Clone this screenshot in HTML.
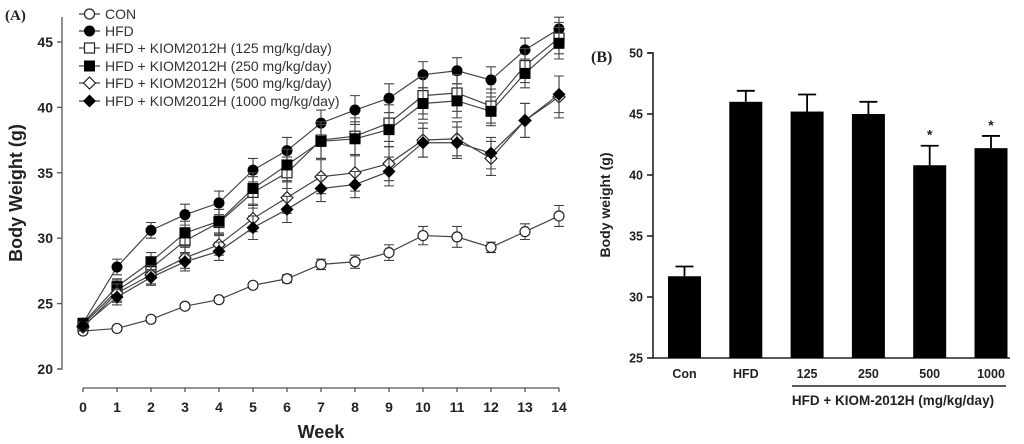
<!DOCTYPE html>
<html><head><meta charset="utf-8"><style>
body{margin:0;background:#fff;}
svg{display:block;font-family:"Liberation Sans",sans-serif;}
</style></head><body>
<svg id="chart" width="1024" height="444" viewBox="0 0 1024 444"></svg>
<script>
const weeks=[0,1,2,3,4,5,6,7,8,9,10,11,12,13,14];
const yTicksA=[20,25,30,35,40,45];
const seriesNames=["CON","HFD","HFD + KIOM2012H (125 mg/kg/day)","HFD + KIOM2012H (250 mg/kg/day)","HFD + KIOM2012H (500 mg/kg/day)","HFD + KIOM2012H (1000 mg/kg/day)"];
const conVals=[22.9,23.1,23.8,24.8,25.3,26.4,26.9,28.0,28.2,28.9,30.2,30.1,29.3,30.5,31.7];
const conErr=[0.2,0.2,0.2,0.2,0.2,0.2,0.3,0.4,0.5,0.6,0.7,0.8,0.4,0.6,0.8];
const hfdVals=[23.5,27.8,30.6,31.8,32.7,35.2,36.7,38.8,39.8,40.7,42.5,42.8,42.1,44.4,46.0];
const hfdErr=[0.3,0.6,0.6,0.8,0.9,0.9,1.0,1.0,1.1,1.1,1.0,1.0,1.0,0.9,0.9];
const k125Vals=[23.4,26.0,27.7,29.8,31.2,33.5,35.0,37.5,37.8,38.8,40.9,41.1,40.1,43.2,45.3];
const k125Err=[0.3,0.8,0.8,1.0,1.0,1.2,1.2,1.4,1.4,1.4,1.4,1.4,1.3,1.3,1.2];
const k250Vals=[23.5,26.3,28.2,30.4,31.3,33.8,35.6,37.4,37.6,38.3,40.3,40.5,39.7,42.6,44.9];
const k250Err=[0.3,0.6,0.7,0.9,0.9,1.2,1.2,1.3,1.3,1.3,1.2,1.3,1.1,1.1,1.2];
const k500Vals=[23.2,25.8,27.2,28.5,29.5,31.5,33.1,34.7,35.0,35.7,37.5,37.6,36.1,39.0,40.8];
const k500Err=[0.3,0.7,0.7,0.8,0.8,1.0,1.2,1.3,1.4,1.3,1.3,1.3,1.3,1.3,1.6];
const k1000Vals=[23.3,25.5,27.0,28.2,29.0,30.8,32.2,33.8,34.1,35.1,37.3,37.3,36.5,39.0,41.0];
const k1000Err=[0.3,0.6,0.6,0.7,0.7,0.9,1.0,1.0,1.0,1.1,1.1,1.2,1.2,1.3,1.4];
const barCats=["Con","HFD","125","250","500","1000"];
const barVals=[31.7,46.0,45.2,45.0,40.8,42.2];
const barErr=[0.8,0.9,1.4,1.0,1.6,1.0];
const barSig=[false,false,false,false,true,true];
const yTicksB=[25,30,35,40,45,50];

const NS="http://www.w3.org/2000/svg";
const svg=document.getElementById('chart');
function mk(tag,attrs,parent,text){const e=document.createElementNS(NS,tag);for(const k in attrs)e.setAttribute(k,attrs[k]);if(text!==undefined)e.textContent=text;(parent||svg).appendChild(e);return e;}

// ---------- Panel A ----------
const xA=w=>83+w*34;
const yA=v=>369-(v-20)*13.08;
const gA=mk('g',{});


let t=mk('text',{x:5,y:20,'font-family':'Liberation Serif,serif','font-weight':'bold','font-size':15,fill:'#222'},gA,'(A)');

let ax=mk('path',{d:`M62 17 V369 H57`,stroke:'#555','stroke-width':1.3,fill:'none'},gA);

yTicksA.forEach(v=>{
  mk('line',{x1:57,x2:62,y1:yA(v),y2:yA(v),stroke:'#555','stroke-width':1.3},gA);
  const l=mk('text',{x:53,y:yA(v)+5,'text-anchor':'end','font-weight':'bold','font-size':14,fill:'#222'},gA,String(v));
  
});
let xa=mk('line',{x1:xA(0),x2:xA(14),y1:388,y2:388,stroke:'#555','stroke-width':1.3},gA);

weeks.forEach(w=>{
  mk('line',{x1:xA(w),x2:xA(w),y1:388,y2:392,stroke:'#555','stroke-width':1.3},gA);
  const l=mk('text',{x:xA(w),y:412,'text-anchor':'middle','font-weight':'bold','font-size':14,fill:'#222'},gA,String(w));
  
});
t=mk('text',{x:321,y:438,'text-anchor':'middle','font-weight':'bold','font-size':18,fill:'#222'},gA,'Week');

t=mk('text',{x:0,y:0,transform:'translate(22,193) rotate(-90)','text-anchor':'middle','font-weight':'bold','font-size':18,fill:'#222'},gA,'Body Weight (g)');


function marker(type,x,y,parent){
  const s='#222';
  if(type==='oc')return mk('circle',{cx:x,cy:y,r:5,fill:'#fff',stroke:s,'stroke-width':1.2},parent);
  if(type==='fc')return mk('circle',{cx:x,cy:y,r:5.5,fill:'#000'},parent);
  if(type==='os')return mk('rect',{x:x-5,y:y-5,width:10,height:10,fill:'#fff',stroke:s,'stroke-width':1.2},parent);
  if(type==='fs')return mk('rect',{x:x-5.5,y:y-5.5,width:11,height:11,fill:'#000'},parent);
  if(type==='od')return mk('path',{d:`M${x} ${y-6}L${x+6} ${y}L${x} ${y+6}L${x-6} ${y}Z`,fill:'#fff',stroke:s,'stroke-width':1.2},parent);
  return mk('path',{d:`M${x} ${y-6.5}L${x+6.5} ${y}L${x} ${y+6.5}L${x-6.5} ${y}Z`,fill:'#000'},parent);
}
const seriesA=[[conVals,conErr,'oc','series-con'],[hfdVals,hfdErr,'fc','series-hfd'],[k125Vals,k125Err,'os','series-125'],[k250Vals,k250Err,'fs','series-250'],[k500Vals,k500Err,'od','series-500'],[k1000Vals,k1000Err,'fd','series-1000']];
seriesA.forEach(([vals,err,m,name])=>{
  const g=mk('g',{},gA);
  
  
  mk('polyline',{points:vals.map((v,i)=>xA(weeks[i])+','+yA(v)).join(' '),fill:'none',stroke:'#444','stroke-width':1.2},g);
  vals.forEach((v,i)=>{
    const x=xA(weeks[i]),y1=yA(v+err[i]),y2=yA(v-err[i]);
    mk('path',{d:`M${x} ${y1}V${y2}M${x-5} ${y1}H${x+5}M${x-5} ${y2}H${x+5}`,stroke:'#444','stroke-width':1.1,fill:'none'},g);
  });
  vals.forEach((v,i)=>{const p=marker(m,xA(weeks[i]),yA(v),g);});
});
// legend
const legY=[14,31,48,66,83,101];
const legM=['oc','fc','os','fs','od','fd'];
seriesNames.forEach((n,i)=>{
  const g=mk('g',{},gA);
  
  
  mk('line',{x1:79,x2:100,y1:legY[i],y2:legY[i],stroke:'#444','stroke-width':1.2},g);
  marker(legM[i],89.5,legY[i],g);
  mk('text',{x:105,y:legY[i]+5,'font-size':14,fill:'#333'},g,n);
});

// ---------- Panel B ----------
const yB=v=>358-(v-25)*12.2;
const xB=i=>684.5+i*61.3;
const gB=mk('g',{});


t=mk('text',{x:591,y:62,'font-family':'Liberation Serif,serif','font-weight':'bold','font-size':16,fill:'#222'},gB,'(B)');

ax=mk('path',{d:`M648 53H653V358H1010`,stroke:'#222','stroke-width':1.6,fill:'none'},gB);

yTicksB.forEach(v=>{
  mk('line',{x1:647,x2:653,y1:yB(v),y2:yB(v),stroke:'#222','stroke-width':1.6},gB);
  const l=mk('text',{x:643,y:yB(v)+4.5,'text-anchor':'end','font-weight':'bold','font-size':12.5,fill:'#222'},gB,String(v));
  
});
t=mk('text',{x:0,y:0,transform:'translate(610,205) rotate(-90)','text-anchor':'middle','font-weight':'bold','font-size':14,fill:'#222'},gB,'Body weight (g)');

barCats.forEach((c,i)=>{
  const x=xB(i),y=yB(barVals[i]),ye=yB(barVals[i]+barErr[i]);
  const b=mk('rect',{x:x-16.5,y:y,width:33,height:358-y,fill:'#000'},gB);
  
  mk('path',{d:`M${x} ${y}V${ye}M${x-9} ${ye}H${x+9}`,stroke:'#000','stroke-width':1.8,fill:'none'},gB);
  const l=mk('text',{x:x,y:378,'text-anchor':'middle','font-weight':'bold','font-size':12.5,fill:'#222'},gB,c);
  
  if(barSig[i]){const s=mk('text',{x:x,y:ye-6,'text-anchor':'middle','font-weight':'bold','font-size':14,fill:'#222'},gB,'*');}
});
const ul=mk('line',{x1:792,x2:1006,y1:386,y2:386,stroke:'#222','stroke-width':1.5},gB);

t=mk('text',{x:893,y:405,'text-anchor':'middle','font-weight':'bold','font-size':13.5,fill:'#222'},gB,'HFD + KIOM-2012H (mg/kg/day)');

</script>
</body></html>
